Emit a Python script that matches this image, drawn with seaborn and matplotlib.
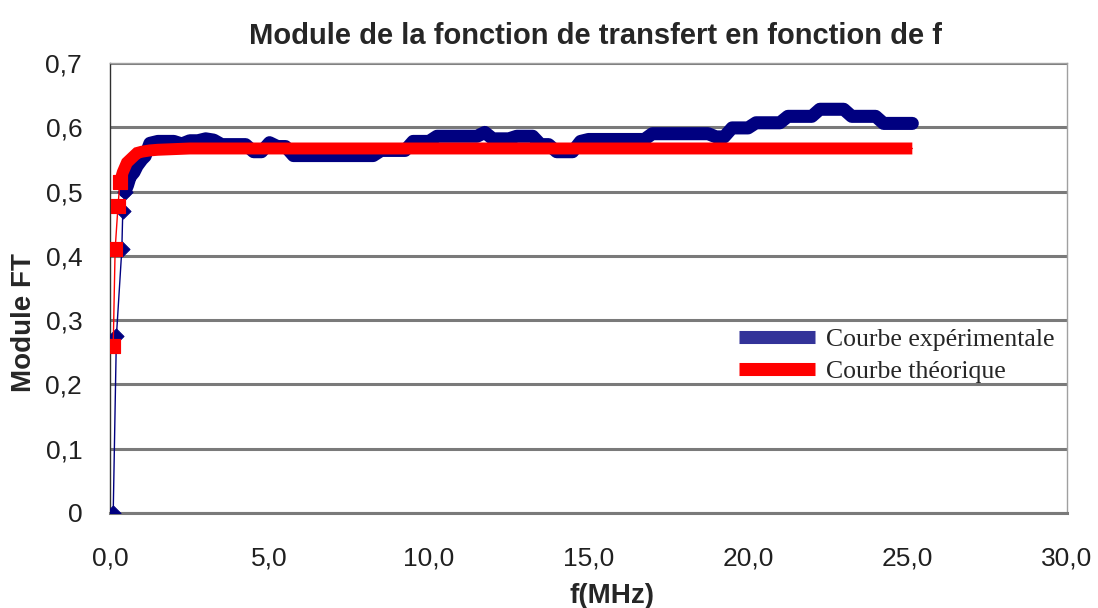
import numpy as np
import pandas as pd
import matplotlib
matplotlib.use("Agg")
import matplotlib.pyplot as plt
import seaborn as sns
from matplotlib.lines import Line2D
from matplotlib.ticker import FuncFormatter, MultipleLocator

# --- data ---
f_exp = [0.10, 0.20, 0.37, 0.40, 0.47, 0.55, 0.63, 0.75, 0.85, 1.00, 1.10,
         1.25, 1.50, 1.75, 2.00, 2.25, 2.50, 2.75, 3.00, 3.25, 3.50, 3.75,
         4.00, 4.25, 4.50, 4.75, 5.00, 5.25, 5.50, 5.75, 6.00, 6.25, 6.50,
         6.75, 7.00, 7.25, 7.50, 7.75, 8.00, 8.25, 8.50, 8.75, 9.00, 9.25,
         9.50, 9.75, 10.00, 10.25, 10.50, 10.75, 11.00, 11.25, 11.50, 11.75,
         12.00, 12.25, 12.50, 12.75, 13.00, 13.25, 13.50, 13.75, 14.00, 14.25,
         14.50, 14.75, 15.00, 15.25, 15.50, 15.75, 16.00, 16.25, 16.50, 16.75,
         17.00, 17.25, 17.50, 17.75, 18.00, 18.25, 18.50, 18.75, 19.00, 19.25,
         19.50, 19.75, 20.00, 20.25, 20.50, 20.75, 21.00, 21.25, 21.50, 21.75,
         22.00, 22.25, 22.50, 22.75, 23.00, 23.25, 23.50, 23.75, 24.00, 24.25,
         24.50, 24.75, 25.00, 25.15]
mod_exp = [0.000, 0.275, 0.410, 0.470, 0.500, 0.510, 0.523, 0.530, 0.540, 0.550, 0.555,
           0.575, 0.578, 0.578, 0.578, 0.574, 0.579, 0.579, 0.582, 0.580, 0.573, 0.573,
           0.573, 0.573, 0.562, 0.562, 0.576, 0.570, 0.570, 0.556, 0.556, 0.556, 0.556,
           0.556, 0.556, 0.556, 0.556, 0.556, 0.556, 0.556, 0.564, 0.564, 0.564, 0.564,
           0.578, 0.578, 0.578, 0.586, 0.586, 0.586, 0.586, 0.586, 0.586, 0.592,
           0.582, 0.582, 0.582, 0.586, 0.586, 0.586, 0.573, 0.573, 0.562, 0.562,
           0.562, 0.578, 0.581, 0.581, 0.581, 0.581, 0.581, 0.581, 0.581, 0.581,
           0.590, 0.590, 0.590, 0.590, 0.590, 0.590, 0.590, 0.590, 0.585, 0.585,
           0.599, 0.599, 0.599, 0.607, 0.607, 0.607, 0.607, 0.617, 0.617, 0.617,
           0.617, 0.628, 0.628, 0.628, 0.628, 0.617, 0.617, 0.617, 0.617, 0.606,
           0.606, 0.606, 0.606, 0.606]

f_th = [0.10, 0.16, 0.25, 0.31, 0.40, 0.53, 0.70, 0.85, 1.00, 1.25, 1.50, 2.00,
        2.50, 3.00, 4.00, 5.00, 6.00, 7.00, 8.00, 9.00, 10.00, 11.00, 12.00,
        13.00, 14.00, 15.00, 16.00, 17.00, 18.00, 19.00, 20.00, 21.00, 22.00,
        23.00, 24.00, 25.00, 25.15]
mod_th = [0.260, 0.410, 0.477, 0.515, 0.530, 0.545, 0.553, 0.560, 0.562, 0.564, 0.565, 0.566,
          0.567, 0.567, 0.567, 0.567, 0.567, 0.567, 0.567, 0.567, 0.567, 0.567, 0.567,
          0.567, 0.567, 0.567, 0.567, 0.567, 0.567, 0.567, 0.567, 0.567, 0.567,
          0.567, 0.567, 0.567, 0.567]

df_exp = pd.DataFrame({'f': f_exp, 'module': mod_exp})
df_th = pd.DataFrame({'f': f_th, 'module': mod_th})

BLUE = '#000080'
RED = '#FF0000'

# --- figure ---
sns.set_style("white")
plt.rcParams['font.family'] = ['Liberation Sans', 'DejaVu Sans']

fig = plt.figure(figsize=(10.98, 6.08), dpi=100)
ax = fig.add_axes([0.1002, 0.1563, 0.8716, 0.7401])

# experimental: thin line + diamonds at the start, then a dense band of markers
sns.lineplot(data=df_exp, x='f', y='module', ax=ax, color=BLUE, linewidth=1,
             zorder=3)
sns.scatterplot(data=df_exp.iloc[:5], x='f', y='module', ax=ax, color=BLUE,
                marker='D', s=60, edgecolor=BLUE, zorder=3)
band_exp = df_exp.iloc[4:]
ax.plot(band_exp['f'], band_exp['module'], color=BLUE, linewidth=9.4,
        solid_joinstyle='round', solid_capstyle='round', zorder=3)

# theoretical: thin line + squares at the start, then thick band
sns.lineplot(data=df_th, x='f', y='module', ax=ax, color=RED, linewidth=1,
             zorder=4)
sns.scatterplot(data=df_th.iloc[:4], x='f', y='module', ax=ax, color=RED,
                marker='s', s=110, edgecolor=RED, zorder=5)
band_th = df_th.iloc[3:]
ax.plot(band_th['f'], band_th['module'], color=RED, linewidth=8.6,
        solid_joinstyle='miter', solid_capstyle='butt', zorder=4)

ax.set_xlim(0, 30)
ax.set_ylim(0, 0.7)
ax.xaxis.set_major_locator(MultipleLocator(5))
ax.yaxis.set_major_locator(MultipleLocator(0.1))
ax.xaxis.set_major_formatter(FuncFormatter(lambda v, p: f"{v:.1f}".replace('.', ',')))
ax.yaxis.set_major_formatter(FuncFormatter(lambda v, p: '0' if abs(v) < 1e-9 else f"{v:.1f}".replace('.', ',')))

ax.grid(axis='y', color='#7a7a7a', linewidth=2.2)
ax.set_axisbelow(True)
for side in ['top', 'right']:
    ax.spines[side].set_color('#a0a0a0')
    ax.spines[side].set_linewidth(1)
ax.spines['left'].set_color('#303030')
ax.spines['left'].set_linewidth(1)
ax.spines['bottom'].set_color('#7a7a7a')
ax.spines['bottom'].set_linewidth(2.2)

ax.tick_params(axis='y', direction='out', length=5, width=2, color='#707070',
               labelsize=19, labelcolor='#202020', pad=15)
ax.tick_params(axis='x', direction='out', length=5, width=1.5, color='#202020',
               labelsize=19, labelcolor='#202020', pad=19)

ax.set_title("Module de la fonction de transfert en fonction de f",
             fontsize=21, fontweight='bold', pad=14, x=0.507)
ax.set_xlabel("f(MHz)", fontsize=20, fontweight='bold')
ax.xaxis.set_label_coords(0.525, -0.155)
ax.set_ylabel("Module FT", fontsize=20, fontweight='bold')
ax.yaxis.set_label_coords(-0.076, 0.424)

handles = [Line2D([0], [0], color='#333399', linewidth=9.4, solid_capstyle='butt'),
           Line2D([0], [0], color=RED, linewidth=9.4, solid_capstyle='butt')]
ax.legend(handles, ["Courbe expérimentale", "Courbe théorique"], loc='upper left',
          bbox_to_anchor=(0.647, 0.434), frameon=False,
          prop={'family': 'Liberation Serif', 'size': 18.5},
          handlelength=2.92, handletextpad=0.43, labelspacing=0.35, borderaxespad=0)

fig.savefig("out.png", dpi=100)
